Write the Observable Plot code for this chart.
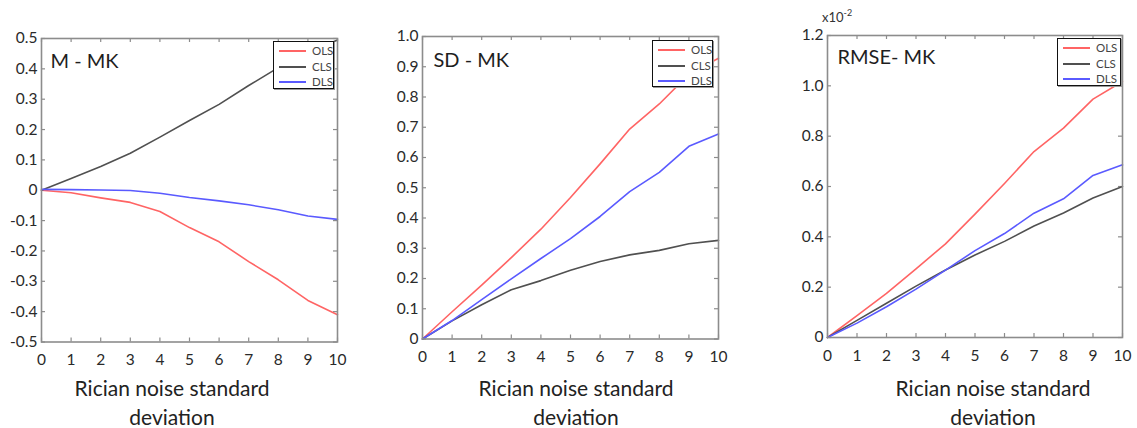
<!DOCTYPE html>
<html><head><meta charset="utf-8">
<script src="https://cdn.jsdelivr.net/npm/d3@7"></script>
<script src="https://cdn.jsdelivr.net/npm/@observablehq/plot@0.6"></script>
<style>
body{margin:0;background:#fff;font-family:Lato,sans-serif;}
#wrap{position:relative;width:1137px;height:428px;overflow:hidden;background:#fff}
.panel{position:absolute;top:0}
.xt{position:absolute;width:300px;text-align:center;font-size:21px;line-height:29px;color:#222}
.leg{position:absolute;border:1.5px solid #111;background:#fff;box-sizing:border-box;font-size:11.5px;color:#444;box-shadow:1px 1px 0 #999}
.leg .row{position:absolute;left:0;right:0;height:14px}
.leg .sw{position:absolute;left:5px;width:27px;top:6px;height:2px}
.leg .lb{position:absolute;left:38px;top:0;line-height:14px}
.mult{position:absolute;font-size:13px;color:#333}
.mult sup{font-size:9px;vertical-align:6px;line-height:0}
</style></head><body><div id="wrap"></div>
<script>
// ---- data ----
const noise = [0,1,2,3,4,5,6,7,8,9,10];
const methods = ["OLS","CLS","DLS"];
const methodColors = ["#ff6464","#505050","#5a5aff"];

// M - MK
const mOLS = [0,-0.008,-0.025,-0.04,-0.07,-0.123,-0.17,-0.235,-0.295,-0.363,-0.41];
const mCLS = [0,0.039,0.078,0.122,0.175,0.23,0.283,0.345,0.404,0.452,0.495];
const mDLS = [0.003,0.002,0.001,-0.001,-0.01,-0.024,-0.035,-0.048,-0.064,-0.085,-0.096];
const mTicks = [-0.5,-0.4,-0.3,-0.2,-0.1,0,0.1,0.2,0.3,0.4,0.5];

// SD - MK
const sdOLS = [0,0.09,0.178,0.269,0.363,0.468,0.579,0.694,0.777,0.875,0.928];
const sdCLS = [0,0.06,0.113,0.163,0.193,0.227,0.256,0.278,0.293,0.315,0.326];
const sdDLS = [0,0.061,0.13,0.199,0.266,0.332,0.405,0.487,0.551,0.637,0.678];
const sdTicks = [0,0.1,0.2,0.3,0.4,0.5,0.6,0.7,0.8,0.9,1.0];

// RMSE - MK (x10^-2)
const rmOLS = [0,0.087,0.175,0.273,0.372,0.49,0.612,0.739,0.832,0.947,1.017];
const rmCLS = [0,0.068,0.136,0.204,0.268,0.328,0.382,0.443,0.495,0.554,0.6];
const rmDLS = [0,0.057,0.122,0.192,0.268,0.345,0.413,0.494,0.551,0.644,0.686];
const rmTicks = [0,0.2,0.4,0.6,0.8,1.0,1.2];

const panelTitles = ["M - MK","SD - MK","RMSE- MK"];
const xTitle = ["Rician noise standard","deviation"];
const multiplierBase = "x10";
const multiplierExp = "-2";

// ---- layout config ----
const panels = [
  {title: panelTitles[0], series: [mOLS,mCLS,mDLS], ticks: mTicks, domain:[-0.5,0.5],
   fmt: d => d === 0 ? "0" : d.toFixed(1),
   left: 0, width: 380, mL: 41, mR: 43, mT: 38, mB: 86.5, tdx: 9, tdy: 16,
   leg: {left: 273, top: 41, w: 61, h: 48}, xtc: 172},
  {title: panelTitles[1], series: [sdOLS,sdCLS,sdDLS], ticks: sdTicks, domain:[0,1],
   fmt: d => d === 0 ? "0" : d.toFixed(1),
   left: 380, width: 380, mL: 42, mR: 42, mT: 36, mB: 89.5, tdx: 11, tdy: 17,
   leg: {left: 652, top: 40, w: 61, h: 47}, xtc: 576},
  {title: panelTitles[2], series: [rmOLS,rmCLS,rmDLS], ticks: rmTicks, domain:[0,1.2],
   fmt: d => d === 0 ? "0" : d.toFixed(1),
   left: 760, width: 377, mL: 67, mR: 15, mT: 35, mB: 91, tdx: 10, tdy: 15,
   leg: {left: 1057, top: 38, w: 64, h: 48}, xtc: 993}
];

const frameColor = "#8c8c8c";
const wrap = document.getElementById("wrap");

panels.forEach((p, pi) => {
  const rows = [];
  p.series.forEach((vals, si) => vals.forEach((v, i) => rows.push({x: noise[i], y: v, method: methods[si]})));
  const [ymin, ymax] = p.domain;
  const xmin = noise[0], xmax = noise[noise.length - 1];
  const tickStyle = {stroke: frameColor, strokeWidth: 1.2};
  const svg = Plot.plot({
    width: p.width, height: 428,
    marginLeft: p.mL, marginRight: p.mR, marginTop: p.mT, marginBottom: p.mB,
    x: {domain: [xmin, xmax], ticks: noise, tickSize: 0, tickPadding: 12, tickFormat: d => String(d), label: null},
    y: {domain: p.domain, ticks: p.ticks, tickSize: 0, tickPadding: 4, tickFormat: p.fmt, label: null},
    color: {domain: methods, range: methodColors},
    style: {fontFamily: "Lato, sans-serif", fontSize: "15.5px", color: "#2a2a2a", background: "transparent", overflow: "visible"},
    marks: [
      Plot.ruleX(noise, {x: d => d, y1: ymin, y2: ymin, insetTop: -4, ...tickStyle}),
      Plot.ruleX(noise, {x: d => d, y1: ymax, y2: ymax, insetBottom: -4, ...tickStyle}),
      Plot.ruleY(p.ticks, {y: d => d, x1: xmin, x2: xmin, insetRight: -4, ...tickStyle}),
      Plot.ruleY(p.ticks, {y: d => d, x1: xmax, x2: xmax, insetLeft: -4, ...tickStyle}),
      Plot.line(rows, {x: "x", y: "y", z: "method", stroke: "method", strokeWidth: 1.6}),
      Plot.frame({stroke: frameColor, strokeWidth: 1.6}),
      Plot.text([p.title], {text: d => d, frameAnchor: "top-left", textAnchor: "start", lineAnchor: "top",
        dx: p.tdx, dy: p.tdy - 1, fontSize: 20, fill: "#1e1e1e"})
    ]
  });
  svg.classList.add("panel");
  svg.style.left = p.left + "px";
  wrap.appendChild(svg);

  // legend
  const leg = document.createElement("div");
  leg.className = "leg";
  Object.assign(leg.style, {left: p.leg.left + "px", top: p.leg.top + "px", width: p.leg.w + "px", height: p.leg.h + "px"});
  methods.forEach((m, i) => {
    const row = document.createElement("div");
    row.className = "row";
    row.style.top = (2 + i * 15.5) + "px";
    const sw = document.createElement("div");
    sw.className = "sw"; sw.style.background = methodColors[i];
    const lb = document.createElement("div");
    lb.className = "lb"; lb.textContent = m;
    row.appendChild(sw); row.appendChild(lb);
    leg.appendChild(row);
  });
  wrap.appendChild(leg);

  // x-axis title
  const xt = document.createElement("div");
  xt.className = "xt";
  xt.style.left = (p.xtc - 150) + "px";
  xt.style.top = "373px";
  xt.innerHTML = xTitle.join("<br>");
  wrap.appendChild(xt);
});

const mult = document.createElement("div");
mult.className = "mult";
mult.style.left = "822px";
mult.style.top = "9px";
mult.innerHTML = multiplierBase + "<sup>" + multiplierExp + "</sup>";
wrap.appendChild(mult);
</script></body></html>
